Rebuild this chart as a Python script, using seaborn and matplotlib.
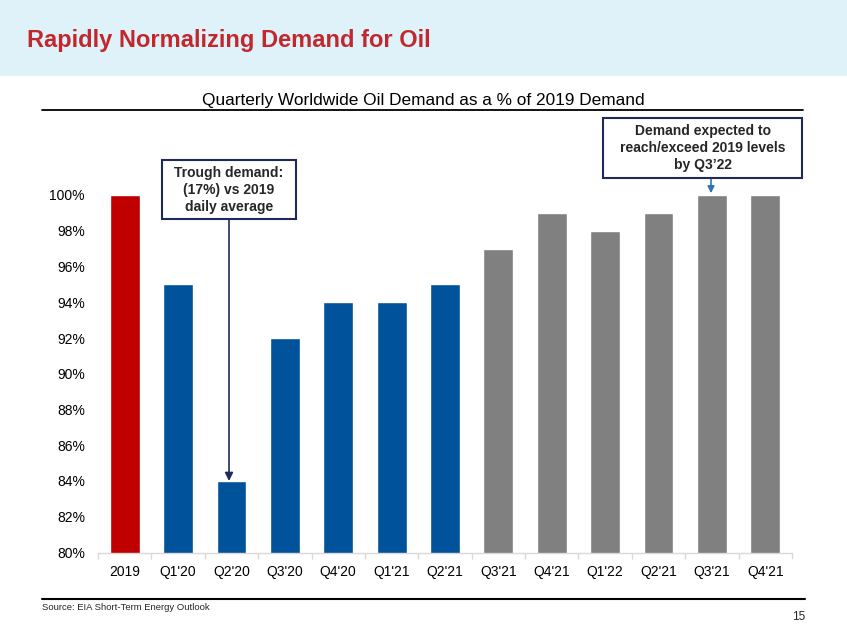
import matplotlib
matplotlib.use("Agg")
import matplotlib.pyplot as plt
from matplotlib.patches import Rectangle
import seaborn as sns
import pandas as pd

categories = ["2019", "Q1'20", "Q2'20", "Q3'20", "Q4'20", "Q1'21", "Q2'21",
              "Q3'21", "Q4'21", "Q1'22", "Q2'21", "Q3'21", "Q4'21"]
values = [100, 95, 84, 92, 94, 94, 95, 97, 99, 98, 99, 100, 100]
bar_colors = ["#C00000"] + ["#00539B"] * 6 + ["#808080"] * 6
y_ticks = [80, 82, 84, 86, 88, 90, 92, 94, 96, 98, 100]

title = "Rapidly Normalizing Demand for Oil"
chart_title = "Quarterly Worldwide Oil Demand as a % of 2019 Demand"
note1 = "Trough demand:\n(17%) vs 2019\ndaily average"
note2 = "Demand expected to\nreach/exceed 2019 levels\nby Q3\u201922"
source = "Source: EIA Short-Term Energy Outlook"
page = "15"

sns.set_theme(style="white")
plt.rcParams["font.family"] = ["Liberation Sans", "DejaVu Sans"]

W, H = 847, 635
fig = plt.figure(figsize=(W / 100, H / 100), dpi=100)

def fx(x):
    return x / W

def fy(y):
    return 1 - y / H

# header band
fig.patches.append(Rectangle((0, fy(76)), 1, 76 / H, transform=fig.transFigure,
                             facecolor="#DFF1F9", edgecolor="none", zorder=0))
fig.text(fx(27), fy(41), title, fontsize=17, fontweight="bold",
         color="#C0282D", va="center", ha="left")

# chart title and underline
fig.text(fx(423), fy(101), chart_title, fontsize=12.4, color="#000000",
         va="center", ha="center")
fig.add_artist(plt.Line2D([fx(42), fx(803)], [fy(110), fy(110)],
                          transform=fig.transFigure, color="#000000", lw=1.3))

# axes
left, right = 98, 792
top, bottom = 195, 552.5
ax = fig.add_axes([fx(left), fy(bottom), (right - left) / W, (bottom - top) / H])

df = pd.DataFrame({"cat": range(len(categories)), "val": values})
sns.barplot(data=df, x="cat", y="val", hue="cat", palette=bar_colors,
            legend=False, width=0.56, ax=ax, saturation=1, native_scale=True)

ax.set_xlim(-0.5, len(categories) - 0.5)
ax.set_ylim(80, 100)
ax.set_yticks(y_ticks)
ax.set_yticklabels([f"{v}%" for v in y_ticks], fontsize=10, color="#000000")
ax.set_xticks(range(len(categories)))
ax.set_xticklabels(categories, fontsize=10, color="#000000")
ax.set_xticks([i - 0.5 for i in range(len(categories) + 1)], minor=True)
ax.tick_params(axis="x", which="major", length=0, pad=9)
ax.tick_params(axis="x", which="minor", length=4, color="#D9D9D9", width=1,
               direction="out", bottom=True)
ax.tick_params(axis="y", length=0, pad=9.4)
ax.set_xlabel("")
ax.set_ylabel("")
for s in ["top", "right", "left"]:
    ax.spines[s].set_visible(False)
ax.spines["bottom"].set_color("#D9D9D9")
ax.spines["bottom"].set_linewidth(1)
ax.grid(False)
ax.set_facecolor("none")

# annotation boxes
fig.patches.append(Rectangle((fx(162), fy(219)), (296 - 162) / W, (219 - 160) / H,
                             transform=fig.transFigure, facecolor="white",
                             edgecolor="#1F2A5A", lw=1.5, zorder=5))
fig.text(fx(229), fy(190), note1, fontsize=10, fontweight="bold",
         ha="center", va="center", linespacing=1.27, zorder=6)
fig.patches.append(Rectangle((fx(603), fy(178)), (802 - 603) / W, (178 - 118) / H,
                             transform=fig.transFigure, facecolor="white",
                             edgecolor="#1F2A5A", lw=1.5, zorder=5))
fig.text(fx(702.5), fy(148), note2, fontsize=10, fontweight="bold",
         ha="center", va="center", linespacing=1.27, zorder=6)

# arrows (vertical, ending on the bar tops)
ax.annotate("", xy=(fx(229), values[2]), xycoords=("figure fraction", "data"),
            xytext=(fx(229), fy(219)), textcoords="figure fraction",
            arrowprops=dict(arrowstyle="-|>", color="#1F2A5A", lw=1.2,
                            mutation_scale=12, shrinkA=0, shrinkB=0),
            annotation_clip=False)
ax.annotate("", xy=(fx(711), values[11] + 0.1), xycoords=("figure fraction", "data"),
            xytext=(fx(711), fy(178)), textcoords="figure fraction",
            arrowprops=dict(arrowstyle="-|>", color="#2E75B6", lw=1.2,
                            mutation_scale=10, shrinkA=0, shrinkB=0),
            annotation_clip=False)

# footer
fig.add_artist(plt.Line2D([fx(42), fx(805)], [fy(598.5), fy(598.5)],
                          transform=fig.transFigure, color="#000000", lw=1.5))
fig.text(fx(42), fy(607), source, fontsize=6.8, ha="left", va="center")
fig.text(fx(805), fy(617), page, fontsize=8.5, ha="right", va="center")

fig.savefig("out.png", dpi=100, facecolor="white")
